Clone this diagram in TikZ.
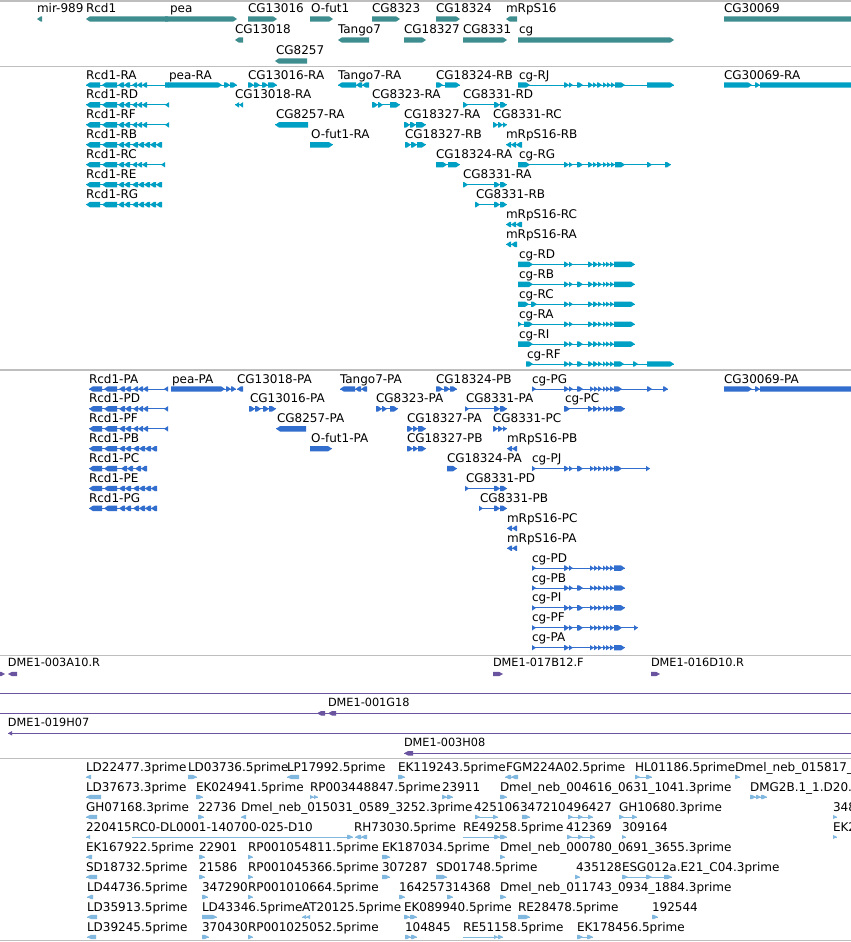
\documentclass[tikz,border=0pt]{standalone}
\usepackage{fontspec}
\setmainfont{DejaVu Sans}
\definecolor{gene}{RGB}{62,142,144}
\definecolor{trc}{RGB}{0,160,196}
\definecolor{prot}{RGB}{50,110,205}
\definecolor{dme}{RGB}{106,84,160}
\definecolor{est}{RGB}{128,184,224}
\definecolor{sep}{RGB}{190,190,190}
\newcounter{lb}
\def\hh{2.7}
\newcommand\blkR[4]{\fill[#4] (#1,{#3-\hh}) -- ({max(#1,#2-4)},{#3-\hh}) -- (#2,#3) -- ({max(#1,#2-4)},{#3+\hh}) -- (#1,{#3+\hh}) -- cycle;}
\newcommand\blkL[4]{\fill[#4] (#2,{#3-\hh}) -- ({min(#2,#1+4)},{#3-\hh}) -- (#1,#3) -- ({min(#2,#1+4)},{#3+\hh}) -- (#2,{#3+\hh}) -- cycle;}
\newcommand\lab[3]{\stepcounter{lb}\node[lab] (l\thelb) at (#1,#2) {#3};}
\newcommand\labd[3]{\stepcounter{lb}\node[labd] (l\thelb) at (#1,#2) {#3};}
% color, dir, y, x1, x2, exons, label x, label
\newcommand\T[8]{%
  \pgfmathsetmacro\yy{#3}%
  \edef\tmplist{#6}%
  \draw[#1,line width=1pt] (#4,\yy) -- (#5,\yy);
  \foreach \a/\b in \tmplist {\csname blk#2\endcsname{\a}{\b}{\yy}{#1}}
  \stepcounter{lb}\node[lab] (l\thelb) at (#7,{\yy-6}) {#8};}
% blocks only
\newcommand\G[4]{%
  \pgfmathsetmacro\yy{#3}%
  \edef\tmplist{#4}%
  \foreach \a/\b in \tmplist {\csname blk#2\endcsname{\a}{\b}{\yy}{#1}}}
\def\rcdA{86/100,102/117,118/124,124/130,132/137,137/142,142/147,165/169}
\def\rcdC{86/100,102/117,118/124,124/130,132/137,137/142,142/147,161/165}
\def\rcdB{86/100,102/117,118/124,124/130,132/138,138/144,144/150,150/156,156/162}
\def\cgRJ{518/530,564/569,569/573,577/583,588/593,593/597,597/602,603/607,607/611,611/615,615/625,647/674}
\def\cgRG{518/530,564/569,569/573,577/583,588/593,593/597,597/602,603/607,607/611,611/615,615/625,647/652,665/671}
\def\cgRD{518/533,564/569,569/573,588/593,593/598,598/602,603/606,606/610,610/614,614/635}
\def\cgRB{518/533,564/569,569/573,577/583,588/593,593/598,598/602,603/606,606/610,610/614,614/635}
\def\cgRC{518/529,531/537,564/569,569/573,588/593,593/598,598/602,603/606,606/610,610/614,614/635}
\def\cgRA{518/522,524/533,564/569,569/573,588/593,593/598,598/602,603/606,606/610,610/614,614/635}
\def\cgRF{526/533,564/569,569/573,577/583,588/593,593/598,598/602,603/606,606/610,610/614,614/624,633/638,647/674}
\def\rcpA{89/102,104/117,119/125,125/131,133/138,138/143,143/148,164/168}
\def\rcpB{89/102,104/117,119/125,125/131,133/139,139/145,145/151,151/157}
\def\rcpC{89/102,104/117,121/127,127/133,135/141,141/147}
\def\cgPG{532/536,564/569,569/573,577/583,590/594,594/598,598/602,603/606,606/610,610/614,614/622,647/652,663/668}
\def\cgPC{564/570,588/593,593/598,598/602,603/606,606/610,610/614,614/625}
\def\cgPJ{532/536,564/569,569/573,577/583,590/594,594/598,598/602,603/606,606/610,610/614,614/622,646/650}
\def\cgPD{532/536,564/569,569/573,590/594,594/598,598/602,603/606,606/610,610/614,614/625}
\def\cgPB{532/536,564/569,569/573,577/583,590/594,594/598,598/602,603/606,606/610,610/614,614/625}
\def\cgPF{532/536,564/569,569/573,577/583,590/594,594/598,598/602,603/606,606/610,610/614,614/622,634/638}
\begin{document}
\begin{tikzpicture}[x=1pt,y=-1pt,
  lab/.style={anchor=base west,inner sep=0pt,outer sep=0pt,font=\fontsize{12}{14}\selectfont,text=black},
  labd/.style={anchor=base west,inner sep=0pt,outer sep=0pt,font=\fontsize{11.3}{13}\selectfont,text=black},
  sepline/.style={draw=sep,line width=1.2pt}]
\useasboundingbox (0,0) rectangle (851,942);
\fill[white] (0,0) rectangle (851,942);
\clip (0,0) rectangle (851,942);
% separators
\foreach \s in {1,66.5,370,655.5,758.3,940.7} {\draw[sepline] (0,\s) -- (851,\s);}
% ===== genes =====
\G{gene}{L}{19}{37/42}
\G{gene}{L}{19}{86/168}
\G{gene}{R}{19}{165/237}
\G{gene}{R}{19}{248/277}
\G{gene}{R}{19}{310/333}
\G{gene}{R}{19}{372/400}
\G{gene}{R}{19}{436/460}
\G{gene}{L}{19}{506/517}
\G{gene}{R}{19}{724/870}
\lab{37}{13}{mir-989}\lab{86}{13}{Rcd1}\lab{170}{13}{pea}\lab{248}{13}{CG13016}
\lab{311}{13}{O-fut1}\lab{372}{13}{CG8323}\lab{436}{13}{CG18324}\lab{506}{13}{mRpS16}\lab{724}{13}{CG30069}
\G{gene}{L}{40}{235/243}
\G{gene}{L}{40}{338/369}
\G{gene}{R}{40}{404/426}
\G{gene}{R}{40}{463/507}
\G{gene}{R}{40}{518/674}
\lab{235}{34}{CG13018}\lab{338}{34}{Tango7}\lab{404}{34}{CG18327}\lab{463}{34}{CG8331}\lab{519}{34}{cg}
\G{gene}{L}{61}{275/307}
\lab{276}{55}{CG8257}
% ===== transcripts =====
\T{trc}{L}{85}{86}{169}{\rcdA}{86}{Rcd1-RA}
\T{trc}{R}{85}{165}{237}{165/222,224/230,230/237}{169}{pea-RA}
\T{trc}{R}{85}{248}{277}{248/254,254/260,262/268,268/277}{248}{CG13016-RA}
\T{trc}{L}{85}{338}{369}{338/356,356/362,362/369}{338}{Tango7-RA}
\T{trc}{R}{85}{436}{460}{436/443,445/460}{436}{CG18324-RB}
\T{trc}{R}{85}{518}{674}{\cgRJ}{519}{cg-RJ}
\T{trc}{R}{85}{724}{870}{724/752,755/760,760/870}{724}{CG30069-RA}
\T{trc}{L}{104.9}{86}{169}{\rcdA}{86}{Rcd1-RD}
\T{trc}{L}{104.9}{235}{243}{235/239,239/243}{235}{CG13018-RA}
\T{trc}{R}{104.9}{372}{400}{372/378,378/383,390/400}{372}{CG8323-RA}
\T{trc}{R}{104.9}{463}{507}{463/468,494/500,500/507}{463}{CG8331-RD}
\T{trc}{L}{124.9}{86}{169}{\rcdA}{86}{Rcd1-RF}
\T{trc}{L}{124.9}{275}{308}{275/308}{276}{CG8257-RA}
\T{trc}{R}{124.9}{404}{426}{404/410,410/416,416/426}{404}{CG18327-RA}
\T{trc}{R}{124.9}{493}{507}{493/498,498/503,503/507}{493}{CG8331-RC}
\T{trc}{L}{144.8}{86}{162}{\rcdB}{86}{Rcd1-RB}
\T{trc}{R}{144.8}{310}{333}{310/333}{311}{O-fut1-RA}
\T{trc}{R}{144.8}{405}{426}{405/411,411/417,417/426}{405}{CG18327-RB}
\T{trc}{L}{144.8}{506}{522}{506/511,511/516,516/522}{506}{mRpS16-RB}
\T{trc}{L}{164.7}{86}{165}{\rcdC}{86}{Rcd1-RC}
\T{trc}{R}{164.7}{436}{460}{436/447,448/460}{436}{CG18324-RA}
\T{trc}{R}{164.7}{518}{671}{\cgRG}{519}{cg-RG}
\T{trc}{L}{184.7}{86}{162}{\rcdB}{86}{Rcd1-RE}
\T{trc}{R}{184.7}{463}{507}{463/468,494/500,500/507}{463}{CG8331-RA}
\T{trc}{L}{204.6}{86}{162}{\rcdB}{86}{Rcd1-RG}
\T{trc}{R}{204.6}{475}{507}{475/480,494/500,500/507}{476}{CG8331-RB}
\T{trc}{L}{224.5}{506}{522}{506/511,511/516,516/522}{506}{mRpS16-RC}
\T{trc}{L}{244.4}{506}{517}{506/511,511/517}{506}{mRpS16-RA}
\T{trc}{R}{264.4}{518}{635}{\cgRD}{519}{cg-RD}
\T{trc}{R}{284.3}{518}{635}{\cgRB}{519}{cg-RB}
\T{trc}{R}{304.2}{518}{635}{\cgRC}{519}{cg-RC}
\T{trc}{R}{324.2}{518}{635}{\cgRA}{519}{cg-RA}
\T{trc}{R}{344.1}{518}{635}{\cgRB}{519}{cg-RI}
\T{trc}{R}{364}{526}{674}{\cgRF}{527}{cg-RF}
% ===== proteins =====
\T{prot}{L}{389}{89}{168}{\rcpA}{89}{Rcd1-PA}
\T{prot}{R}{389}{171}{236}{171/225,226/231,231/236}{172}{pea-PA}
\T{prot}{L}{389}{237}{243}{237/243}{237}{CG13018-PA}
\T{prot}{L}{389}{340}{367}{340/355,355/361,361/367}{340}{Tango7-PA}
\T{prot}{R}{389}{436}{457}{436/443,444/450,450/457}{436}{CG18324-PB}
\T{prot}{R}{389}{532}{668}{\cgPG}{532}{cg-PG}
\T{prot}{R}{389}{724}{870}{724/752,755/760,760/870}{724}{CG30069-PA}
\T{prot}{L}{408.9}{89}{168}{\rcpA}{89}{Rcd1-PD}
\T{prot}{R}{408.9}{249}{276}{249/255,255/261,263/269,269/276}{250}{CG13016-PA}
\T{prot}{R}{408.9}{376}{398}{376/382,382/387,390/398}{376}{CG8323-PA}
\T{prot}{R}{408.9}{465}{507}{465/469,494/500,500/507}{466}{CG8331-PA}
\T{prot}{R}{408.9}{564}{625}{\cgPC}{565}{cg-PC}
\T{prot}{L}{428.8}{89}{168}{\rcpA}{89}{Rcd1-PF}
\T{prot}{L}{428.8}{276}{306}{276/306}{277}{CG8257-PA}
\T{prot}{R}{428.8}{407}{426}{407/413,413/418,418/426}{407}{CG18327-PA}
\T{prot}{R}{428.8}{493}{507}{493/498,498/503,503/507}{493}{CG8331-PC}
\T{prot}{L}{448.7}{89}{157}{\rcpB}{89}{Rcd1-PB}
\T{prot}{R}{448.7}{310}{332}{310/332}{311}{O-fut1-PA}
\T{prot}{R}{448.7}{407}{426}{407/413,413/418,418/426}{407}{CG18327-PB}
\T{prot}{L}{448.7}{507}{517}{507/512,512/517}{507}{mRpS16-PB}
\T{prot}{L}{468.6}{89}{147}{\rcpC}{89}{Rcd1-PC}
\T{prot}{R}{468.6}{447}{457}{447/457}{447}{CG18324-PA}
\T{prot}{R}{468.6}{532}{650}{\cgPJ}{532}{cg-PJ}
\T{prot}{L}{488.5}{89}{157}{\rcpB}{89}{Rcd1-PE}
\T{prot}{R}{488.5}{465}{507}{465/469,494/500,500/507}{466}{CG8331-PD}
\T{prot}{L}{508.4}{89}{157}{\rcpB}{89}{Rcd1-PG}
\T{prot}{R}{508.4}{479}{507}{479/483,494/500,500/507}{480}{CG8331-PB}
\T{prot}{L}{528.3}{507}{517}{507/512,512/517}{507}{mRpS16-PC}
\T{prot}{L}{548.2}{507}{517}{507/512,512/517}{507}{mRpS16-PA}
\T{prot}{R}{568.1}{532}{625}{\cgPD}{532}{cg-PD}
\T{prot}{R}{588}{532}{625}{\cgPB}{532}{cg-PB}
\T{prot}{R}{607.9}{532}{625}{\cgPB}{532}{cg-PI}
\T{prot}{R}{627.8}{532}{638}{\cgPF}{532}{cg-PF}
\T{prot}{R}{647.7}{532}{625}{\cgPD}{532}{cg-PA}
% ===== DME clones =====
\def\hh{2.2}
\G{dme}{R}{674}{0/5}
\G{dme}{L}{674}{8/17}
\labd{8}{666.7}{DME1-003A10.R}
\G{dme}{R}{674}{493/503}
\labd{493}{666.7}{DME1-017B12.F}
\G{dme}{R}{674}{651/660}
\labd{651}{666.7}{DME1-016D10.R}
\draw[dme,line width=1pt] (0,693.3) -- (851,693.3);
\draw[dme,line width=1pt] (0,713.3) -- (851,713.3);
\G{dme}{L}{713.3}{317/325,328/336}
\labd{328}{706.7}{DME1-001G18}
\draw[dme,line width=1pt] (8,733.3) -- (851,733.3);
\G{dme}{L}{733.3}{8/12}
\labd{8}{726.7}{DME1-019H07}
\draw[dme,line width=1pt] (404,753.3) -- (851,753.3);
\G{dme}{L}{753.3}{404/413}
\labd{404}{746.7}{DME1-003H08}
% ===== ESTs =====
\def\hh{2.1}
\T{est}{L}{777}{86}{91}{86/91}{86}{LD22477.3prime}
\T{est}{R}{777}{188}{197}{188/197}{188}{LD03736.5prime}
\T{est}{L}{777}{287}{299}{287/299}{287}{LP17992.5prime}
\T{est}{R}{777}{398}{405}{398/405}{398}{EK119243.5prime}
\T{est}{L}{777}{505}{518}{505/511,511/518}{506}{FGM224A02.5prime}
\T{est}{R}{777}{635}{652}{635/640,646/652}{635}{HL01186.5prime}
\T{est}{R}{777}{735}{740}{735/740}{735}{Dmel\_neb\_015817\_}
\T{est}{L}{797}{86}{101}{86/101}{86}{LD37673.3prime}
\T{est}{R}{797}{196}{203}{196/203}{196}{EK024941.5prime}
\T{est}{R}{797}{310}{318}{310/314,314/318}{310}{RP003448847.5prime}
\T{est}{R}{797}{442}{453}{442/447,447/453}{442}{23911}
\T{est}{R}{797}{500}{507}{500/507}{500}{Dmel\_neb\_004616\_0631\_1041.3prime}
\T{est}{R}{797}{750}{767}{750/756,756/761,761/767}{750}{DMG2B.1\_1.D20.}
\T{est}{L}{817}{86}{97}{86/97}{86}{GH07168.3prime}
\T{est}{R}{817}{198}{204}{198/204}{198}{22736}
\T{est}{L}{817}{241}{246}{241/246}{241}{Dmel\_neb\_015031\_0589\_3252.3prime}
\T{est}{R}{817}{475}{498}{475/480,493/498}{474}{425106}
\T{est}{R}{817}{522}{530}{522/530}{520}{347210}
\T{est}{R}{817}{568}{593}{568/573,578/583,588/593}{566}{496427}
\T{est}{R}{817}{619}{637}{619/624,632/637}{619}{GH10680.3prime}
\T{est}{R}{817}{833}{837}{833/837}{833}{348}
\T{est}{L}{837}{86}{90}{86/90}{86}{220415}
\T{est}{R}{837}{132}{353}{347/353}{132}{RC0-DL0001-140700-025-D10}
\T{est}{L}{837}{355}{367}{355/361,361/367}{354}{RH73030.5prime}
\T{est}{R}{837}{463}{507}{494/500,500/507}{463}{RE49258.5prime}
\T{est}{R}{837}{567}{595}{567/572,578/583,590/595}{566}{412369}
\T{est}{R}{837}{622}{626}{622/626}{622}{309164}
\T{est}{R}{837}{833}{837}{833/837}{833}{EK2}
\T{est}{L}{857}{86}{92}{86/92}{86}{EK167922.5prime}
\T{est}{R}{857}{199}{205}{199/205}{199}{22901}
\T{est}{R}{857}{248}{253}{248/253}{248}{RP001054811.5prime}
\T{est}{R}{857}{382}{390}{382/390}{382}{EK187034.5prime}
\T{est}{R}{857}{500}{505}{500/505}{500}{Dmel\_neb\_000780\_0691\_3655.3prime}
\T{est}{L}{877}{86}{97}{86/97}{86}{SD18732.5prime}
\T{est}{R}{877}{199}{205}{199/205}{199}{21586}
\T{est}{R}{877}{248}{253}{248/253}{248}{RP001045366.5prime}
\T{est}{R}{877}{382}{390}{382/390}{382}{307287}
\T{est}{R}{877}{436}{447}{436/447}{436}{SD01748.5prime}
\T{est}{R}{877}{575}{580}{575/580}{576}{435128}
\T{est}{R}{877}{622}{672}{622/628,646/652,664/672}{622}{ESG012a.E21\_C04.3prime}
\T{est}{L}{897}{87}{93}{87/93}{87}{LD44736.5prime}
\T{est}{R}{897}{202}{208}{202/208}{202}{347290}
\T{est}{R}{897}{248}{253}{248/253}{248}{RP001010664.5prime}
\T{est}{R}{897}{399}{405}{399/405}{399}{164257}
\T{est}{R}{897}{447}{453}{447/453}{445}{314368}
\T{est}{R}{897}{500}{506}{500/506}{500}{Dmel\_neb\_011743\_0934\_1884.3prime}
\T{est}{L}{917}{87}{97}{87/97}{87}{LD35913.5prime}
\T{est}{R}{917}{202}{217}{202/217}{202}{LD43346.5prime}
\T{est}{L}{917}{302}{310}{302/306,306/310}{302}{AT20125.5prime}
\T{est}{R}{917}{404}{417}{404/410,410/417}{404}{EK089940.5prime}
\T{est}{R}{917}{518}{530}{518/530}{518}{RE28478.5prime}
\T{est}{R}{917}{652}{658}{652/658}{652}{192544}
\T{est}{L}{937}{87}{96}{87/96}{87}{LD39245.5prime}
\T{est}{R}{937}{202}{209}{202/209}{202}{370430}
\T{est}{R}{937}{248}{253}{248/253}{248}{RP001025052.5prime}
\T{est}{R}{937}{405}{417}{405/411,411/417}{405}{104845}
\T{est}{R}{937}{463}{503}{494/498,498/503}{463}{RE51158.5prime}
\T{est}{R}{937}{577}{593}{577/583,587/593}{577}{EK178456.5prime}
\end{tikzpicture}
\end{document}
